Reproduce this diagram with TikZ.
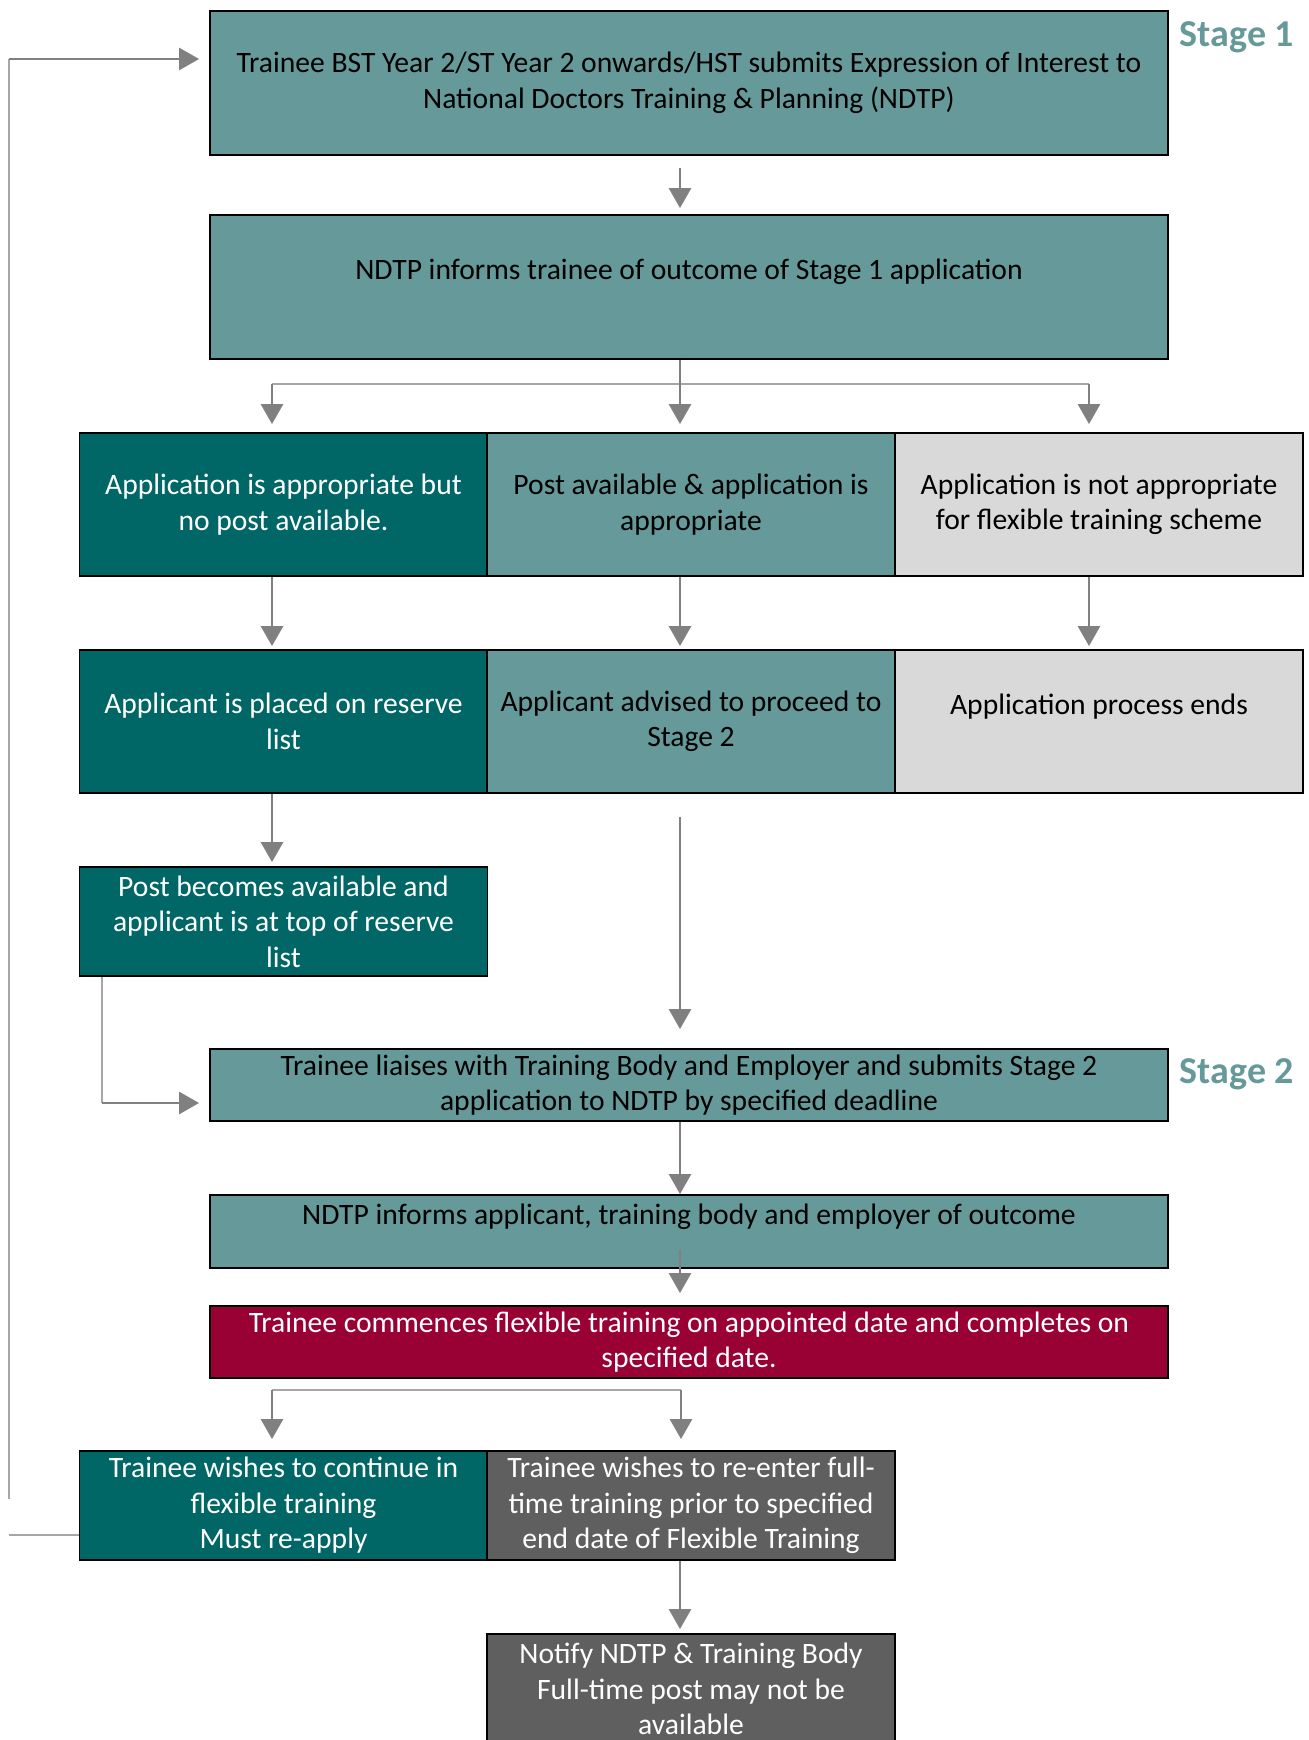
\documentclass[tikz,border=0pt]{standalone}
\usepackage{fontspec}
\setmainfont{Carlito}
\usepackage{tikz}
\usetikzlibrary{arrows.meta,positioning,calc}

\definecolor{tealL}{RGB}{102,153,153}
\definecolor{tealD}{RGB}{0,102,102}
\definecolor{greyL}{RGB}{217,217,217}
\definecolor{crimson}{RGB}{153,0,51}
\definecolor{greyD}{RGB}{95,95,95}
\definecolor{arrgrey}{RGB}{128,128,128}
\definecolor{linegrey}{RGB}{166,166,166}

\begin{document}
\begin{tikzpicture}[x=0.5pt,y=-0.5pt,
   box/.style={rectangle,draw=black,line width=0.9pt,inner sep=2pt,align=center,
      font=\fontsize{14.8}{17.75}\selectfont},
   wide/.style={box,minimum width=479pt},
   cell/.style={box,minimum width=204pt},
   lteal/.style={fill=tealL,text=black},
   dteal/.style={fill=tealD,text=white},
   lgrey/.style={fill=greyL,text=black},
   dgrey/.style={fill=greyD,text=white},
   red/.style={fill=crimson,text=white},
   arr/.style={draw=arrgrey,line width=1.3pt,-{Triangle[width=11pt,length=10pt]}},
   thinline/.style={draw=linegrey,line width=1pt},
   stagelbl/.style={text=tealL,font=\fontsize{19}{22}\selectfont\bfseries}]
\useasboundingbox (0,0) rectangle (1309,1740);
% stage 1
\path (689,83)     node (eoi)      [wide,lteal,minimum height=72pt]
         {Trainee BST Year 2/ST Year 2 onwards/HST submits Expression of Interest to\\National Doctors Training \& Planning (NDTP)}
      (689,287)    node (outcome1) [wide,lteal,minimum height=72pt]
         {NDTP informs trainee of outcome of Stage 1 application\\\mbox{}};
\path (283.5,504.5) node (nopost)  [cell,dteal,minimum height=71.5pt]
         {Application is appropriate but\\no post available.}
      (691,504.5)   node (postok)  [cell,lteal,minimum height=71.5pt]
         {Post available \& application is\\appropriate}
      (1099,504.5)  node (notappr) [cell,lgrey,minimum height=71.5pt]
         {Application is not appropriate\\for flexible training scheme};
\path (283.5,721.5) node (reserve) [cell,dteal,minimum height=71.5pt]
         {Applicant is placed on reserve\\list}
      (691,721.5)   node (advised) [cell,lteal,minimum height=71.5pt]
         {Applicant advised to proceed to\\Stage 2}
      (1099,721.5)  node (ends)    [cell,lgrey,minimum height=71.5pt]
         {Application process ends\\\mbox{}};
\path (283.5,921.5) node (postbec) [cell,dteal,minimum height=54.5pt]
         {Post becomes available and\\applicant is at top of reserve\\list};
% stage 2
\path (689,1085)   node (submit2)  [wide,lteal,minimum height=36pt]
         {Trainee liaises with Training Body and Employer and submits Stage 2\\application to NDTP by specified deadline}
      (689,1231.5) node (inform2)  [wide,lteal,minimum height=36.5pt]
         {NDTP informs applicant, training body and employer of outcome\\\mbox{}}
      (689,1342)   node (commence) [wide,red,minimum height=36pt]
         {Trainee commences flexible training on appointed date and completes on\\specified date.};
\path (283.5,1505.5) node (cont)    [cell,dteal,minimum height=54.5pt]
         {Trainee wishes to continue in\\flexible training\\Must re-apply}
      (691,1505.5)   node (reenter) [cell,dgrey,minimum height=54.5pt]
         {Trainee wishes to re-enter full-\\time training prior to specified\\end date of Flexible Training}
      (691,1689)     node (notify)  [cell,dgrey,minimum height=55pt]
         {Notify NDTP \& Training Body\\Full-time post may not be\\available};
\node (st1) [stagelbl] at (1237,37)   {Stage 1};
\node (st2) [stagelbl] at (1237,1074) {Stage 2};

\coordinate (forkL) at (272,384);
\coordinate (forkM) at (680,384);
\coordinate (forkR) at (1089,384);
\coordinate (bend) at (102,1103);
\coordinate (fork2L) at (272,1390);
\coordinate (fork2R) at (681,1390);
\coordinate (loopB) at (9,1535);
\coordinate (loopG) at (9,1499);
\coordinate (loopT) at (9,59);

\draw [arr,shorten <=6pt,shorten >=3pt] (forkM |- eoi.south) -- (forkM |- outcome1.north);
\draw [thinline] (forkL) -- (forkR);
\draw [arr,shorten >=4pt] (forkM |- outcome1.south) -- (forkM |- postok.north);
\draw [arr,shorten >=4pt] (forkL) -- (forkL |- nopost.north);
\draw [arr,shorten >=4pt] (forkR) -- (forkR |- notappr.north);
\foreach \c/\a/\b in {forkL/nopost/reserve,forkM/postok/advised,forkR/notappr/ends}
   \draw [arr,shorten >=1.5pt] (\c |- \a.south) -- (\c |- \b.north);
\draw [arr,shorten >=2pt] (forkL |- reserve.south) -- (forkL |- postbec.north);
\draw [arr,shorten <=11.5pt,shorten >=9.5pt] (forkM |- advised.south) -- (forkM |- submit2.north);
\draw [thinline] (bend |- postbec.south) -- (bend);
\draw [arr,shorten >=5pt] (bend) -- (bend -| submit2.west);
\draw [arr] (forkM |- submit2.south) -- (forkM |- inform2.north);
\draw [arr,shorten >=6pt] ($(forkM |- inform2.south)+(0,-19)$) -- (forkM |- commence.north);
\draw [thinline] (fork2L) -- (fork2R);
\draw [arr,shorten >=5.5pt] (fork2L) -- (fork2L |- cont.north);
\draw [arr,shorten >=5.5pt] (fork2R) -- (fork2R |- reenter.north);
\draw [arr,shorten >=2pt] (forkM |- reenter.south) -- (forkM |- notify.north);
% loop back to stage 1
\draw [thinline] (loopB -| cont.west) -- (loopB);
\draw [thinline] (loopG) -- (loopT);
\draw [arr,shorten >=5pt] (loopT) -- (loopT -| eoi.west);
\end{tikzpicture}
\end{document}
